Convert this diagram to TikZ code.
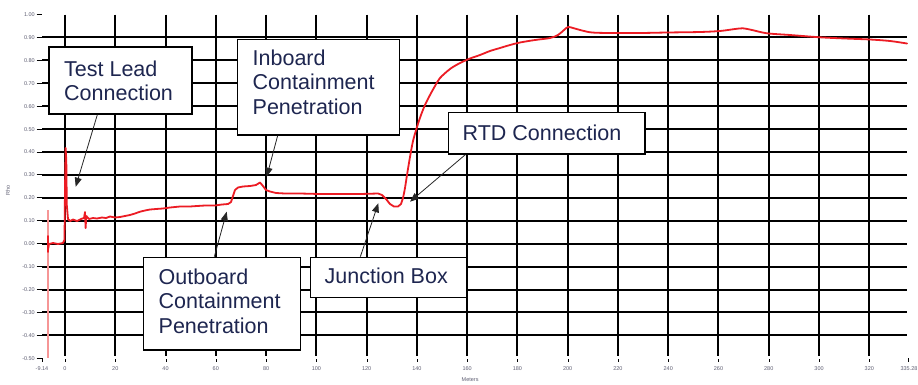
\documentclass[tikz,border=0pt]{standalone}
\usepackage{fontspec}
\setmainfont{Liberation Sans}
\usetikzlibrary{arrows.meta,calc}
\definecolor{tracered}{RGB}{236,28,36}
\definecolor{palered}{RGB}{246,150,150}
\definecolor{labelblue}{RGB}{30,38,80}
\definecolor{axisgray}{RGB}{95,95,115}
\begin{document}
\begin{tikzpicture}[x=1pt,y=-1pt,
  grid/.style={black,line width=1.5pt},
  tickline/.style={black,line width=1pt},
  box/.style={draw=black,line width=1.3pt,fill=white,inner sep=0pt},
  boxtext/.style={inner sep=0pt,anchor=base west,text=labelblue,font=\fontsize{21.5}{24.8}\selectfont},
  callout/.style={draw=black!85,line width=0.8pt,-{Triangle[length=9pt,width=7pt]}},
  ylab/.style={font=\fontsize{5.5}{6}\selectfont,text=axisgray,anchor=east,inner sep=0pt},
  xlab/.style={font=\fontsize{5.5}{6}\selectfont,text=axisgray,inner sep=0pt},
  trace/.style={tracered,line width=1.8pt,line join=round,line cap=round}]
\useasboundingbox[fill=white] (0,0) rectangle (918,384);

% grid
\foreach \x in {65,115,166,216,266,316,367,417,467,517,568,618,668,718,769,819,869}{
  \draw[grid] (\x,14.5) -- (\x,356);
  \draw[tickline] (\x,359) -- (\x,361.5);
}
\foreach \y in {37,60,83,106,129,152,175,198,221,244,267,290,312,335}
  \draw[grid] (42,\y) -- (907,\y);
\foreach \j in {0,...,15}
  \draw[tickline] (36.5,{14.5+22.92*\j}) -- (41.5,{14.5+22.92*\j});
\draw[tickline] (42,358) -- (42,361.5);
\draw[tickline] (908,358) -- (908,361.5);

% axis labels
\foreach \j/\t in {0/1.00,1/0.90,2/0.80,3/0.70,4/0.60,5/0.50,6/0.40,7/0.30,8/0.20,9/0.10,10/0.00,11/-0.10,12/-0.20,13/-0.30,14/-0.40,15/-0.50}
  \node[ylab] (yl\j) at (35,{14.5+22.92*\j}) {\t};
\foreach \k/\t in {0/0,1/20,2/40,3/60,4/80,5/100,6/120,7/140,8/160,9/180,10/200,11/220,12/240,13/260,14/280,15/300,16/320}
  \node[xlab] (xl\k) at ({65+50.268*\k},368.5) {\t};
\node[xlab] (xlmin) at (42,368.5) {-9.14};
\node[xlab] (xlmax) at (909,368.5) {335.28};
\node[xlab,anchor=west] (meters) at (461.5,380) {Meters};
\node[xlab,rotate=90] (rho) at (8,190) {Rho};

% trace
\draw[palered,line width=1.4pt] (48,210) -- (48,358);
\draw[trace] (48,236) -- (48,252);
\draw[trace] (48,250) -- (49,244) -- (53,243) -- (58,244) -- (63,243) -- (64.5,240) -- (65,190) -- (65.6,148) -- (66.3,160) -- (66.8,205) -- (68,219) -- (70,221) -- (73,219.5) -- (77,221) -- (81,219) -- (84,218) -- (85,212) -- (85.6,228) -- (86.3,216) -- (89,219) -- (93,218) -- (97,218.5) -- (102,217.5) -- (106,218) -- (110,216.5) -- (115,217.5) -- (120,217) -- (125,216) -- (130,215) -- (135,213.5) -- (140,211.7) -- (145,210.5) -- (150,209.5) -- (156,209) -- (163,208.5) -- (170,207.5) -- (180,206.5) -- (190,206.5) -- (197,206) -- (205,205.5) -- (215,205.5) -- (222,204.5) -- (228,204) -- (231,202) -- (233,196) -- (235,190) -- (238,187.5) -- (243,186.5) -- (250,186) -- (256,185) -- (260,182.5) -- (263,186) -- (266,190) -- (270,191.5) -- (276,193) -- (285,193.5) -- (300,193.5) -- (320,194) -- (340,194) -- (360,194) -- (378,193.5) -- (382,195) -- (386,199) -- (390,204) -- (394,206.5) -- (398,206.5) -- (401,204) -- (403,198);
\draw[trace] plot[smooth,tension=0.5] coordinates {(403,198) (405,188) (407,175) (410,157) (413,141) (417,127) (421,115) (425,105) (430,95) (435,86) (440,78) (450,69) (460,63) (470,58.5) (480,55) (490,51) (500,48) (510,45) (520,42.5) (535,40) (550,38) (558,35) (564,30) (568,27) (573,28) (582,30.5) (592,32.5) (610,33) (640,33) (667,32.5) (700,32) (720,31) (735,29) (743,28.3) (752,30) (767,33.3) (790,35) (820,37.3) (845,38.5) (870,39.5) (890,41) (907,43.5)};

% callout boxes
\node[box,minimum width=143pt,minimum height=67pt] (tl) at (120.5,80.5) {};
\node[boxtext] (tlt) at (64,76) {\parbox[t]{140pt}{Test Lead\\Connection}};
\node[box,minimum width=161.6pt,minimum height=95.7pt] (ib) at (318.5,87.15) {};
\node[boxtext] (ibt) at (252.5,65) {\parbox[t]{150pt}{Inboard\\Containment\\Penetration}};
\node[box,minimum width=196.7pt,minimum height=41.3pt] (rtd) at (546.65,133.35) {};
\node[boxtext] (rtdt) at (462.5,140.7) {RTD Connection};
\node[box,minimum width=157.4pt,minimum height=92.7pt] (ob) at (222,303.65) {};
\node[boxtext] (obt) at (158.5,284) {\parbox[t]{150pt}{Outboard\\Containment\\Penetration}};
\node[box,minimum width=156pt,minimum height=40pt] (jb) at (388.7,277.3) {};
\node[boxtext] (jbt) at (324.5,283.3) {Junction Box};

% callout arrows
\coordinate (tltip) at (75.7,186.7);
\coordinate (ibtip) at (266.7,176.7);
\coordinate (rtdtip) at (410,201.7);
\coordinate (obtip) at (226.7,211.7);
\coordinate (jbtip) at (378.3,203.3);
\draw[callout] ([xshift=49pt]tl.south west) -- (tltip);
\draw[callout] ([xshift=40.6pt]ib.south west) -- (ibtip);
\draw[callout] ([xshift=17.7pt]rtd.south west) -- (rtdtip);
\draw[callout] ([xshift=71.7pt]ob.north west) -- (obtip);
\draw[callout] ([xshift=50.3pt]jb.north west) -- (jbtip);
\end{tikzpicture}
\end{document}
